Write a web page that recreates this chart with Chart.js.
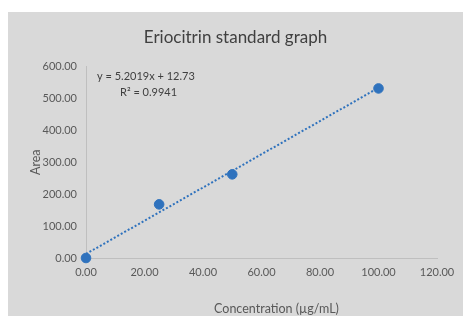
<!DOCTYPE html>
<html>
<head>
<meta charset="utf-8">
<script src="https://cdn.jsdelivr.net/npm/chart.js@4/dist/chart.umd.min.js"></script>
<style>
  body { margin: 0; background: #fff; }
  #wrap { position: relative; width: 463px; height: 316px; overflow: hidden; }
  #panel { position: absolute; left: 8px; top: 12px; right: 0; bottom: 0; background: #d9d9d9; }
  #chart { position: absolute; left: 0; top: 0; }
</style>
</head>
<body>
<div id="wrap">
  <div id="panel"></div>
  <canvas id="chart" width="463" height="316"></canvas>
</div>
<script>
// data
const concentration = [0, 25, 50, 100];
const area = [0, 168, 262, 531];

// trendline end points (Excel linear fit, y = 5.2019x + 12.73)
const trendX = [0, 100];
const trendY = [12.73, 532.92];

const xTicks = [0, 20, 40, 60, 80, 100, 120];
const yTicks = [0, 100, 200, 300, 400, 500, 600];

const blue = '#2f72bd';
const fontName = 'Lato, "Open Sans", sans-serif';

// equation label and x axis title, placed the way Excel put them
const extraText = {
    id: 'extraText',
    afterDraw(chart) {
        const ctx = chart.ctx;
        const a = chart.chartArea;
        ctx.save();
        ctx.textBaseline = 'middle';
        ctx.fillStyle = '#404040';
        ctx.font = '11px ' + fontName;
        ctx.textAlign = 'left';
        ctx.fillText('y = 5.2019x + 12.73', a.left + 11, a.top + 10);
        ctx.fillText('R² = 0.9941', a.left + 34, a.top + 26);
        ctx.fillStyle = '#595959';
        ctx.font = '12.5px ' + fontName;
        ctx.textAlign = 'center';
        ctx.fillText('Concentration (µg/mL)', (a.left + a.right) / 2 + 15, chart.height - 7);
        ctx.restore();
    }
};

const ctx = document.getElementById('chart').getContext('2d');
new Chart(ctx, {
    type: 'scatter',
    data: {
        datasets: [
            {
                label: 'Trend',
                type: 'line',
                data: trendX.map((x, i) => ({ x: x, y: trendY[i] })),
                borderColor: blue,
                borderWidth: 2,
                borderDash: [2, 2],
                pointRadius: 0,
                fill: false
            },
            {
                label: 'Area',
                data: concentration.map((x, i) => ({ x: x, y: area[i] })),
                backgroundColor: blue,
                borderColor: blue,
                pointRadius: 4.8,
                clip: false
            }
        ]
    },
    options: {
        responsive: false,
        animation: false,
        layout: { padding: { left: 8, top: 12, right: 0, bottom: 0 } },
        plugins: {
            legend: { display: false },
            tooltip: { enabled: false },
            title: {
                display: true,
                text: 'Eriocitrin standard graph',
                color: '#404040',
                font: { family: fontName, size: 17, weight: 'normal' },
                padding: { top: 15, bottom: 19 }
            }
        },
        scales: {
            x: {
                type: 'linear',
                min: 0,
                max: 120,
                afterBuildTicks: (s) => { s.ticks = xTicks.map(v => ({ value: v })); },
                afterFit: (s) => { s.height = 58; },
                grid: { display: false, drawTicks: false },
                border: { color: '#bfbfbf', width: 1 },
                ticks: {
                    color: '#595959',
                    padding: 8,
                    font: { family: fontName, size: 11 },
                    callback: (v) => v.toFixed(2)
                }
            },
            y: {
                min: 0,
                max: 600,
                afterBuildTicks: (s) => { s.ticks = yTicks.map(v => ({ value: v })); },
                afterFit: (s) => { s.width = 78; },
                grid: { display: false, drawTicks: false },
                border: { color: '#bfbfbf', width: 1 },
                ticks: {
                    color: '#595959',
                    padding: 9,
                    font: { family: fontName, size: 11 },
                    callback: (v) => v.toFixed(2)
                },
                title: {
                    display: true,
                    text: 'Area',
                    color: '#595959',
                    font: { family: fontName, size: 12.5 },
                    padding: { top: 20, bottom: 0 }
                }
            },
            // empty right axis, only keeps room right of the plot like the original
            yRight: {
                position: 'right',
                min: 0,
                max: 600,
                afterFit: (s) => { s.width = 26; },
                grid: { display: false, drawTicks: false },
                border: { display: false },
                ticks: { display: false }
            }
        }
    },
    plugins: [extraText]
});
</script>
</body>
</html>
